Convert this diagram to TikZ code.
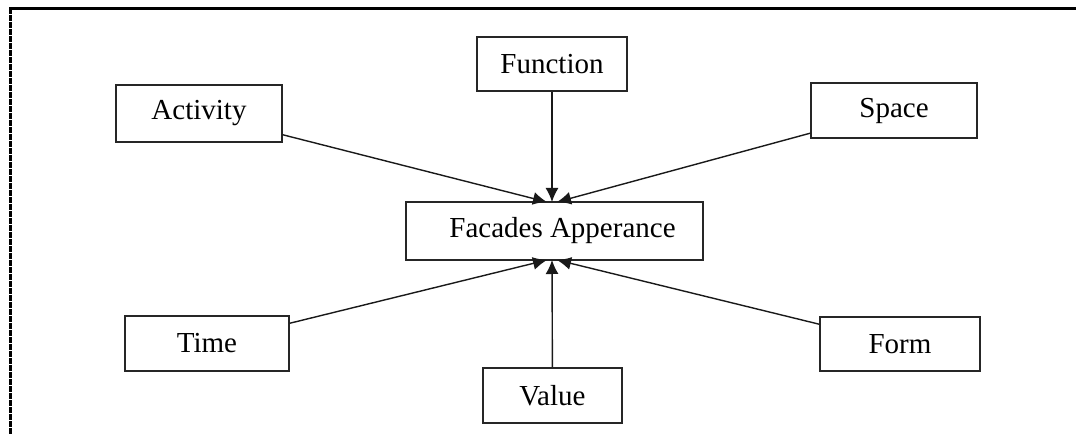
\documentclass[tikz,border=0pt]{standalone}
\usepackage{fontspec}
\setmainfont{Liberation Serif}
\usetikzlibrary{arrows.meta}
\tikzset{
  box/.style={draw=black!85, line width=1.5pt, inner sep=0pt,
    font=\fontsize{29}{34}\selectfont},
  link/.style={-{Latex[length=14pt,width=13pt]}, line width=1.4pt, draw=black!90}
}
\begin{document}
\begin{tikzpicture}[x=1pt,y=-1pt]
	\useasboundingbox (0,0) rectangle (1076,435);
	% page frame
	\draw[line width=3pt] (9,9) -- (1076,9);
	\draw[line width=3.5pt, dash pattern=on 6pt off 1pt] (10.5,8) -- (10.5,435);
	% centre box
	\node[box, minimum width=297pt, minimum height=58pt] (fa) at (554.5,231) {\hspace{16pt}Facades Apperance};
	\coordinate (fatop) at (552,202);
	\coordinate (fabot) at (552,260);
	% upper boxes
	\node[box, minimum width=166pt, minimum height=57pt] (act) at (199,113.5) {Activity\hspace{34pt}};
	\node[box, minimum width=150pt, minimum height=54pt] (fun) at (552,64) {Function};
	\node[box, minimum width=166pt, minimum height=55pt] (spa) at (894,110.5) {Space};
	% lower boxes
	\node[box, minimum width=164pt, minimum height=55pt] (tim) at (207,343.5) {Time};
	\node[box, minimum width=139pt, minimum height=55pt] (val) at (552.5,395.5) {Value};
	\node[box, minimum width=160pt, minimum height=54pt] (frm) at (900,344) {Form};
	% arrows
	\draw[link] (act) -- ([xshift=-5pt]fatop);
	\draw[link] (fun) -- (fatop);
	\draw[link] (spa) -- ([xshift=5pt]fatop);
	\draw[link] (tim) -- ([xshift=-5pt]fabot);
	\draw[link] (val) -- (fabot);
	\draw[link] (frm) -- ([xshift=5pt]fabot);
\end{tikzpicture}
\end{document}
